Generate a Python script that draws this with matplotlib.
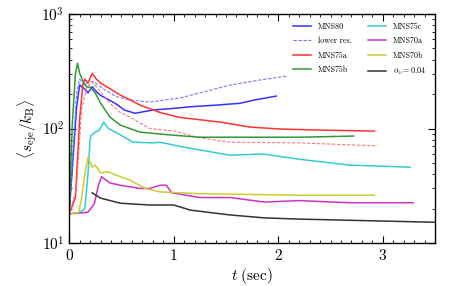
import matplotlib
matplotlib.use("Agg")
import matplotlib.pyplot as plt
from matplotlib.ticker import MultipleLocator, LogLocator, NullFormatter

plt.rcParams['font.family'] = 'serif'
plt.rcParams['font.serif'] = ['cmr10']
plt.rcParams['mathtext.fontset'] = 'cm'
plt.rcParams['axes.formatter.use_mathtext'] = True

# data
t_mns80 = [0.0, 0.04, 0.07, 0.1, 0.14, 0.18, 0.22, 0.26, 0.3, 0.37, 0.44, 0.53, 0.63, 0.8, 1.0, 1.16, 1.4, 1.63, 1.78, 1.98]
s_mns80 = [18, 60, 150, 240, 225, 205, 232, 210, 195, 180, 166, 145, 136, 145, 150, 155, 160, 166, 178, 192]
t_low80 = [0.0, 0.04, 0.07, 0.1, 0.15, 0.2, 0.25, 0.35, 0.45, 0.58, 0.77, 1.06, 1.25, 1.54, 1.82, 2.08]
s_low80 = [18, 70, 200, 270, 240, 260, 250, 215, 190, 178, 170, 185, 205, 240, 265, 287]
t_75a = [0.0, 0.06, 0.1, 0.13, 0.15, 0.18, 0.22, 0.26, 0.3, 0.4, 0.49, 0.68, 0.87, 1.06, 1.44, 1.73, 2.02, 2.4, 2.92]
s_75a = [18, 25, 120, 240, 270, 250, 303, 270, 250, 220, 196, 160, 138, 125, 114, 103, 99, 97, 95]
t_low75a = [0.0, 0.07, 0.12, 0.17, 0.22, 0.3, 0.39, 0.48, 0.58, 0.77, 1.01, 1.25, 1.54, 2.2, 2.95]
s_low75a = [18, 30, 150, 230, 256, 210, 166, 140, 126, 100, 95, 83, 76, 75, 70.5]
t_75b = [0.0, 0.03, 0.06, 0.08, 0.1, 0.14, 0.17, 0.2, 0.25, 0.3, 0.39, 0.49, 0.68, 0.96, 1.25, 2.2, 2.72]
s_75b = [18, 110, 300, 373, 303, 250, 230, 230, 204, 167, 126, 107, 93, 88, 84, 84, 86]
t_75c = [0.0, 0.1, 0.15, 0.18, 0.2, 0.21, 0.25, 0.29, 0.33, 0.37, 0.49, 0.61, 0.8, 0.87, 1.09, 1.54, 1.85, 2.2, 2.68, 3.26]
s_75c = [18, 18.5, 20, 40, 80, 87, 93, 97, 114, 101, 88, 76, 75, 76, 69, 58.5, 60, 54, 48, 46]
t_70a = [0.0, 0.1, 0.18, 0.24, 0.28, 0.31, 0.39, 0.49, 0.68, 0.77, 0.87, 0.93, 0.98, 1.25, 1.54, 1.87, 2.2, 2.68, 3.29]
s_70a = [18, 18.3, 18.6, 22, 32, 38, 33.5, 32, 30, 30, 32, 32, 27.5, 25, 25, 22.8, 23.5, 22.5, 22.5]
t_70b = [0.0, 0.09, 0.12, 0.15, 0.18, 0.22, 0.25, 0.3, 0.37, 0.49, 0.58, 0.73, 0.87, 1.25, 2.2, 2.92]
s_70b = [18, 18.5, 25, 40, 56, 46, 48, 41, 42, 38, 35.5, 30, 28, 27, 26.2, 26.2]
t_alpha = [0.22, 0.3, 0.49, 0.77, 1.0, 1.16, 1.54, 1.87, 2.2, 3.5]
s_alpha = [27.5, 24.7, 22.3, 21.5, 21.5, 19.4, 17.6, 16.6, 16.2, 15.2]

labels = ['MNS80', 'lower res.', 'MNS75a', 'MNS75b', 'MNS75c', 'MNS70a', 'MNS70b',
          r'$\alpha_\nu = 0.04$']

fig = plt.figure(figsize=(4.58, 2.86), dpi=100)
ax = fig.add_axes([0.151, 0.150, 0.799, 0.801])

lw = 1.1
l1, = ax.plot(t_mns80, s_mns80, color='#3333ff', lw=lw)
l2, = ax.plot(t_low80, s_low80, color='#7777ff', lw=0.8, ls=(0, (3, 1.5)))
l3, = ax.plot(t_75a, s_75a, color='#ff3333', lw=lw)
ax.plot(t_low75a, s_low75a, color='#ff7777', lw=0.8, ls=(0, (3, 1.5)))
l4, = ax.plot(t_75b, s_75b, color='#339933', lw=lw)
l5, = ax.plot(t_75c, s_75c, color='#33cccc', lw=lw)
l6, = ax.plot(t_70a, s_70a, color='#cc33cc', lw=lw)
l7, = ax.plot(t_70b, s_70b, color='#cccc33', lw=lw)
l8, = ax.plot(t_alpha, s_alpha, color='#333333', lw=lw)

ax.set_yscale('log')
ax.set_xlim(0, 3.5)
ax.set_ylim(10, 1000)
ax.xaxis.set_major_locator(MultipleLocator(1))
ax.xaxis.set_minor_locator(MultipleLocator(0.1))
ax.yaxis.set_minor_locator(LogLocator(base=10, subs=range(2, 10)))
ax.yaxis.set_minor_formatter(NullFormatter())
ax.tick_params(which='both', direction='in', top=True, right=True, labelsize=11)
ax.tick_params(which='major', length=5, width=0.8)
ax.tick_params(which='minor', length=2.5, width=0.6)
for sp in ax.spines.values():
    sp.set_linewidth(1.0)

ax.set_xlabel(r'$t\ (\rm sec)$', fontsize=11, labelpad=2)
ax.set_ylabel(r'$\langle s_{\rm eje}/k_{\rm B}\rangle$', fontsize=11, labelpad=2)

leg = ax.legend([l1, l2, l3, l4, l5, l6, l7, l8], labels,
                ncol=2, loc='upper right', bbox_to_anchor=(0.99, 0.985),
                frameon=False, fontsize=5.8,
                handlelength=2.2, handletextpad=0.85, columnspacing=2.1,
                labelspacing=0.75, borderaxespad=0.2)

fig.savefig('out.png', dpi=100)
